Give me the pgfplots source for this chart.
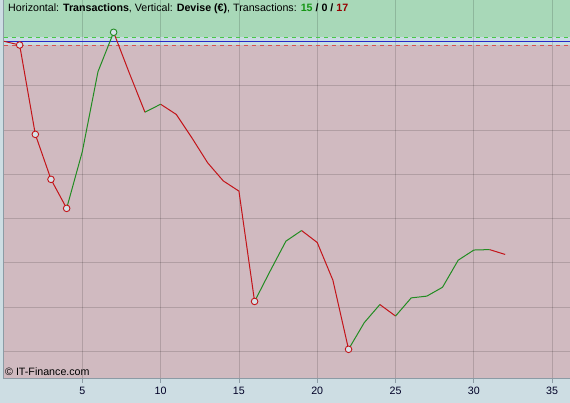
\documentclass[border=0pt]{standalone}
\usepackage{pgfplots}
\pgfplotsset{compat=1.18}
\usepackage{pgfplotstable}
\usepackage{fontspec}
\setmainfont{Liberation Sans}
\definecolor{bgout}{RGB}{205,221,227}
\definecolor{greenbg}{RGB}{168,216,184}
\definecolor{redbg}{RGB}{208,186,192}
\definecolor{bandbg}{RGB}{200,220,226}
\definecolor{linegreen}{RGB}{34,140,34}
\definecolor{linered}{RGB}{195,20,25}
\definecolor{dashgreen}{RGB}{70,200,70}
\definecolor{dashred}{RGB}{215,80,80}
\definecolor{zeroblue}{RGB}{40,40,200}
\definecolor{markfill}{RGB}{214,226,232}
\definecolor{axisgray}{RGB}{140,155,165}
\definecolor{titlegreen}{RGB}{20,150,20}
\definecolor{titlered}{RGB}{150,0,0}

\pgfplotstableread{
x y
0 0
1 -0.084
2 -2.10
3 -3.115
4 -3.77
5 -2.49
6 -0.686
7 0.203
8 -0.715
9 -1.60
10 -1.42
11 -1.65
12 -2.18
13 -2.74
14 -3.15
15 -3.38
16 -5.87
17 -5.18
18 -4.51
19 -4.27
20 -4.54
21 -5.39
22 -6.95
23 -6.35
24 -5.94
25 -6.20
26 -5.79
27 -5.75
28 -5.55
29 -4.94
30 -4.71
31 -4.70
32 -4.81
}\equity

\begin{document}
\begin{tikzpicture}
\begin{axis}[
  at={(0,0)}, anchor=south west,
  scale only axis, width=566pt, height=379pt,
  set layers,
  xmin=0, xmax=36.14, ymin=-7.62, ymax=0.932,
  axis x line*=bottom, axis y line*=left,
  axis line style={axisgray, line width=1pt, -},
  xtick={5,10,...,35},
  ytick={-7,-6,...,0},
  yticklabels={},
  y tick style={draw=none},
  x tick style={axisgray, line width=0.8pt},
  tick align=outside,
  major tick length=4pt,
  grid=major,
  grid style={black, opacity=0.15, line width=0.8pt},
  /pgf/number format/assume math mode=true,
  xticklabel shift=4pt,
  every x tick label/.append style={font=\fontsize{10.67}{12}\selectfont, text=black!85!blue, inner sep=0pt},
  clip=false,
]
\begin{pgfonlayer}{axis background}
\fill[bgout] ([xshift=-4pt,yshift=-24pt]axis cs:0,-7.62) rectangle (axis cs:36.14,0.932);
\fill[greenbg] (axis cs:0,0) rectangle (axis cs:36.14,0.932);
\fill[redbg] (axis cs:0,-7.62) rectangle (axis cs:36.14,0);
\fill[bandbg] (axis cs:0,-0.09) rectangle (axis cs:36.14,0.09);
\end{pgfonlayer}
\addplot[dashgreen, line width=1pt, dash pattern=on 4pt off 4pt] coordinates {(0,0.09) (36.14,0.09)};
\addplot[dashred, line width=1pt, dash pattern=on 4pt off 4pt] coordinates {(0,-0.09) (36.14,-0.09)};
\addplot[zeroblue, line width=1pt] coordinates {(0,0) (36.14,0)};
% falling runs
\addplot[linered, line width=1pt] table[restrict x to domain=0:4] {\equity};
\addplot[linered, line width=1pt] table[restrict x to domain=7:9] {\equity};
\addplot[linered, line width=1pt] table[restrict x to domain=10:16] {\equity};
\addplot[linered, line width=1pt] table[restrict x to domain=19:22] {\equity};
\addplot[linered, line width=1pt] table[restrict x to domain=24:25] {\equity};
\addplot[linered, line width=1pt] table[restrict x to domain=31:32] {\equity};
% rising runs
\addplot[linegreen, line width=1pt] table[restrict x to domain=4:7] {\equity};
\addplot[linegreen, line width=1pt] table[restrict x to domain=9:10] {\equity};
\addplot[linegreen, line width=1pt] table[restrict x to domain=16:19] {\equity};
\addplot[linegreen, line width=1pt] table[restrict x to domain=22:24] {\equity};
\addplot[linegreen, line width=1pt] table[restrict x to domain=25:31] {\equity};
% markers
\addplot[only marks, mark=*, mark size=3.3pt, mark options={draw=linered, fill=markfill, line width=0.9pt}] coordinates {(1,-0.084) (2,-2.10) (3,-3.115) (4,-3.77) (16,-5.87) (22,-6.95)};
\addplot[only marks, mark=*, mark size=3.3pt, mark options={draw=linegreen, fill=markfill, line width=0.9pt}] coordinates {(7,0.203)};
\node[anchor=base west, inner sep=0pt, font=\fontsize{10.67}{12}\selectfont] at (rel axis cs:0.00707,0.9683)
  {Horizontal: \textbf{Transactions}, Vertical: \textbf{Devise (€)}, Transactions: \textbf{\textcolor{titlegreen}{15} / 0 / \textcolor{titlered}{17}}};
\node[anchor=base west, inner sep=0pt, font=\fontsize{10.67}{12}\selectfont] at (rel axis cs:0.00177,0.01055)
  {© IT-Finance.com};
\end{axis}
\pgfresetboundingbox
\path[use as bounding box] (-4pt,-24pt) rectangle (566pt,379pt);
\end{tikzpicture}
\end{document}
